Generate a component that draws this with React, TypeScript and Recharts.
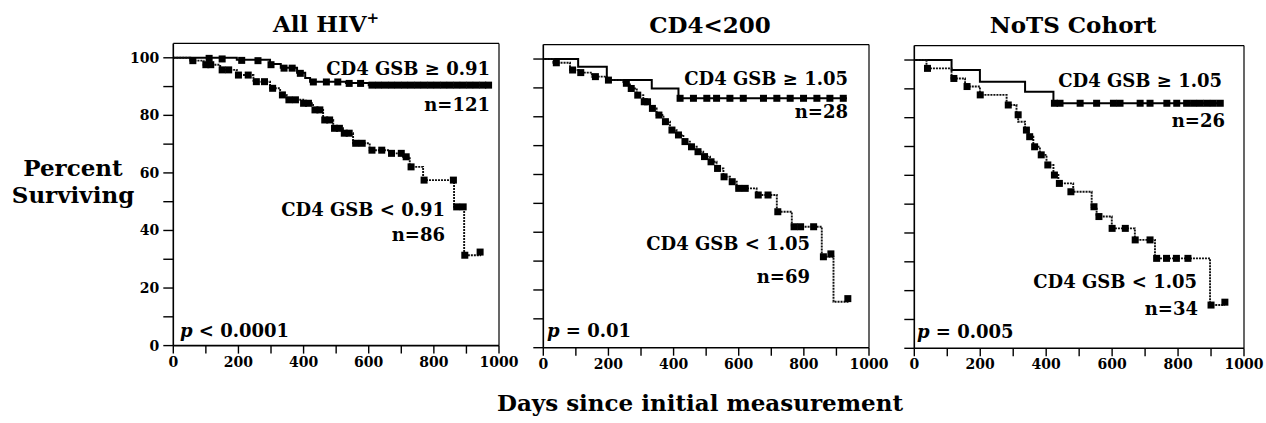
import React from "react";
import { ComposedChart, Line, Scatter, XAxis, YAxis, ReferenceLine } from "recharts";

type Pt = [number, number];

const xTicks = [0, 100, 200, 300, 400, 500, 600, 700, 800, 900, 1000];
const yTicks = [0, 10, 20, 30, 40, 50, 60, 70, 80, 90, 100];

// All HIV+ panel
const allHighSteps: Pt[] = [
  [0, 100], [195, 99.3], [297, 97.8], [330, 96.5], [380, 94.8], [405, 93],
  [420, 91.7], [530, 91.2], [600, 90.5], [970, 90.5],
];
const allHighMarks: Pt[] = [
  [110, 99.8], [150, 99.6], [210, 99.1], [260, 99], [300, 97.6], [340, 96.4],
  [365, 96.4], [390, 94.6], [430, 91.6], [470, 91.6], [505, 91.6], [540, 91.1],
  [575, 91.1], [610, 90.5], [630, 90.5], [650, 90.5], [670, 90.5], [690, 90.5],
  [710, 90.5], [730, 90.5], [750, 90.5], [770, 90.5], [790, 90.5], [810, 90.5],
  [830, 90.5], [850, 90.5], [870, 90.5], [890, 90.5], [910, 90.5], [930, 90.5],
  [950, 90.5], [968, 90.5],
];
const allLowSteps: Pt[] = [
  [0, 100], [52, 99], [93, 97.6], [144, 95.8], [195, 94], [246, 91.7], [297, 89.4],
  [328, 87.1], [348, 85.4], [399, 84.2], [429, 81.9], [460, 78.4], [491, 75.5],
  [521, 73.8], [552, 70.3], [603, 67.9], [664, 66.8], [705, 65.6], [726, 62.1],
  [767, 57.5], [862, 48.2], [893, 31.4], [945, 31.4],
];
const allLowMarks: Pt[] = [
  [60, 99], [100, 97.6], [115, 97.6], [150, 95.8], [170, 95.8], [200, 94], [230, 94],
  [255, 91.7], [280, 91.7], [305, 89.4], [335, 87.1], [355, 85.4], [375, 85.4],
  [400, 84.2], [415, 84.2], [435, 81.9], [450, 81.9], [465, 78.4], [480, 78.4],
  [495, 75.5], [510, 75.5], [525, 73.8], [540, 73.8], [560, 70.3], [580, 70.3],
  [610, 67.9], [640, 67.9], [670, 66.8], [700, 66.8], [715, 65.6], [730, 62.1],
  [770, 57.5], [860, 57.5], [870, 48.2], [890, 48.2], [895, 31.4], [942, 32.5],
];

// CD4<200 panel
const cd4HighSteps: Pt[] = [
  [0, 100], [107, 97.3], [195, 92.7], [333, 89.8], [415, 86.4], [932, 86.4],
];
const cd4HighMarks: Pt[] = [
  [420, 86.4], [461, 86.4], [502, 86.4], [532, 86.4], [573, 86.4], [614, 86.4],
  [676, 86.4], [717, 86.4], [758, 86.4], [799, 86.4], [840, 86.4], [880, 86.4],
  [921, 86.4],
];
const cd4LowSteps: Pt[] = [
  [0, 100], [31, 98.7], [82, 96.2], [112, 95.3], [149, 93.9], [195, 92.7],
  [246, 91.6], [266, 89.8], [287, 87.5], [307, 85.2], [328, 82.9], [348, 80.6],
  [369, 78.3], [389, 75.4], [409, 73.7], [430, 71.4], [450, 69.6], [471, 67.9],
  [491, 66.2], [512, 64.4], [532, 62.1], [553, 59.2], [573, 57.5], [594, 55.2],
  [655, 52.9], [717, 47.1], [763, 41.9], [855, 31.5], [891, 15.9], [937, 15.9],
];
const cd4LowMarks: Pt[] = [
  [40, 98.7], [90, 96.2], [115, 95.3], [160, 93.9], [200, 92.7], [255, 91.6],
  [270, 89.8], [290, 87.5], [310, 85.2], [320, 85.2], [335, 82.9], [355, 80.6],
  [375, 78.3], [395, 75.4], [415, 73.7], [435, 71.4], [455, 69.6], [475, 67.9],
  [495, 66.2], [515, 64.4], [535, 62.1], [555, 59.2], [580, 57.5], [600, 55.2],
  [620, 55.2], [660, 52.9], [690, 52.9], [720, 47.1], [770, 41.9], [790, 41.9],
  [830, 41.9], [860, 31.5], [883, 32.5], [935, 17],
];

// NoTS Cohort panel
const notsHighSteps: Pt[] = [
  [0, 100], [113, 96.5], [199, 92.5], [336, 89], [422, 85], [935, 85],
];
const notsHighMarks: Pt[] = [
  [425, 85], [442, 85], [503, 85], [553, 85], [604, 85], [624, 85], [685, 85],
  [715, 85], [766, 85], [796, 85], [826, 85], [847, 85], [867, 85], [887, 85],
  [907, 85], [928, 85],
];
const notsLowSteps: Pt[] = [
  [0, 100], [37, 97.1], [113, 93.6], [154, 90.8], [199, 87.9], [280, 84.4],
  [310, 81.5], [315, 78.6], [336, 75.7], [346, 73.4], [361, 69.9], [381, 67.1],
  [401, 63.6], [422, 60.1], [437, 57.2], [482, 54.3], [538, 49.1], [553, 45.7],
  [599, 41.6], [669, 37.6], [730, 31.2], [897, 15], [942, 15],
];
const notsLowMarks: Pt[] = [
  [40, 97.1], [120, 93.6], [160, 90.8], [200, 87.9], [285, 84.4], [315, 81],
  [340, 75.7], [350, 73.4], [365, 69.9], [385, 67.1], [405, 63.6], [425, 60.1],
  [440, 57.2], [475, 54.3], [545, 49.1], [560, 45.7], [600, 41.6], [640, 41.6],
  [670, 37.6], [715, 37.6], [735, 31.2], [765, 31.2], [795, 31.2], [830, 31.2],
  [900, 15], [942, 16],
];

const FONT = "'DejaVu Serif', serif";
const toRows = (pts: Pt[]) => pts.map(([day, pct]) => ({ day, pct }));

const square = (props: any) => (
  <rect x={props.cx - 3.5} y={props.cy - 3.5} width={7} height={7} fill="#000" />
);

interface PanelProps {
  left: number;
  width: number;
  margin: { top: number; right: number; bottom: number; left: number };
  highSteps: Pt[];
  highMarks: Pt[];
  lowSteps: Pt[];
  lowMarks: Pt[];
  yLabels: boolean;
}

function KMPanel({ left, width, margin, highSteps, highMarks, lowSteps, lowMarks, yLabels }: PanelProps) {
  const tickStyle = { fill: "#000", fontSize: 14, fontWeight: "bold", fontFamily: FONT };
  return (
    <div style={{ position: "absolute", left, top: 0 }}>
      <ComposedChart width={width} height={423} margin={margin}>
        <XAxis
          type="number"
          dataKey="day"
          domain={[0, 1000]}
          ticks={xTicks}
          interval={0}
          tickFormatter={(v) => (v % 200 === 0 ? String(v) : "")}
          tick={tickStyle}
          tickSize={8}
          tickMargin={3}
          height={30}
          axisLine={{ stroke: "#000", strokeWidth: 1.6 }}
          tickLine={{ stroke: "#000", strokeWidth: 1.4 }}
        />
        <YAxis
          type="number"
          dataKey="pct"
          domain={[0, 105]}
          ticks={yTicks}
          interval={0}
          tickFormatter={(v) => (yLabels && v % 20 === 0 ? String(v) : "")}
          tick={tickStyle}
          tickSize={10}
          tickMargin={4}
          width={20}
          axisLine={{ stroke: "#000", strokeWidth: 1.6 }}
          tickLine={{ stroke: "#000", strokeWidth: 1.4 }}
        />
        <ReferenceLine y={105} stroke="#000" strokeWidth={1.2} />
        <ReferenceLine x={1000} stroke="#000" strokeWidth={1.2} />
        <Line
          data={toRows(highSteps)}
          dataKey="pct"
          type="stepAfter"
          stroke="#000"
          strokeWidth={2}
          dot={false}
          isAnimationActive={false}
        />
        <Line
          data={toRows(lowSteps)}
          dataKey="pct"
          type="stepAfter"
          stroke="#111"
          strokeWidth={1.9}
          strokeDasharray="2 1"
          dot={false}
          isAnimationActive={false}
        />
        <Scatter data={toRows(highMarks)} dataKey="pct" shape={square} isAnimationActive={false} />
        <Scatter data={toRows(lowMarks)} dataKey="pct" shape={square} isAnimationActive={false} />
      </ComposedChart>
    </div>
  );
}

function Labels() {
  const t = { fontFamily: FONT, fontWeight: "bold" as const, fill: "#000" };
  return (
    <svg
      width={1266}
      height={423}
      style={{ position: "absolute", left: 0, top: 0, pointerEvents: "none" }}
    >
      <g {...t} fontSize={23} textAnchor="middle">
        <text x={326} y={32}>
          All HIV<tspan fontSize={15} dy={-9}>+</tspan>
        </text>
        <text x={710} y={33}>CD4&lt;200</text>
        <text x={1073} y={33}>NoTS Cohort</text>
        <text x={73} y={176}>Percent</text>
        <text x={73} y={203}>Surviving</text>
        <text x={700} y={411}>Days since initial measurement</text>
      </g>
      <g {...t} fontSize={18} textAnchor="end">
        <text x={490} y={75}>CD4 GSB ≥ 0.91</text>
        <text x={490} y={111}>n=121</text>
        <text x={445} y={216}>CD4 GSB &lt; 0.91</text>
        <text x={445} y={241}>n=86</text>
        <text x={848} y={85}>CD4 GSB ≥ 1.05</text>
        <text x={848} y={118}>n=28</text>
        <text x={810} y={250}>CD4 GSB &lt; 1.05</text>
        <text x={810} y={283}>n=69</text>
        <text x={1222} y={87}>CD4 GSB ≥ 1.05</text>
        <text x={1225} y={127}>n=26</text>
        <text x={1197} y={288}>CD4 GSB &lt; 1.05</text>
        <text x={1198} y={315}>n=34</text>
      </g>
      <g {...t} fontSize={18} textAnchor="start">
        <text x={180} y={337}>
          <tspan fontStyle="italic">p</tspan> &lt; 0.0001
        </text>
        <text x={547} y={337}>
          <tspan fontStyle="italic">p</tspan> = 0.01
        </text>
        <text x={917} y={338}>
          <tspan fontStyle="italic">p</tspan> = 0.005
        </text>
      </g>
    </svg>
  );
}

export default function App() {
  return (
    <div style={{ position: "absolute", left: 0, top: 0, width: 1266, height: 423, background: "#fff" }}>
      <KMPanel
        left={0}
        width={520}
        margin={{ top: 43.4, right: 21, bottom: 47.4, left: 153.3 }}
        highSteps={allHighSteps}
        highMarks={allHighMarks}
        lowSteps={allLowSteps}
        lowMarks={allLowMarks}
        yLabels
      />
      <KMPanel
        left={500}
        width={390}
        margin={{ top: 44.6, right: 21, bottom: 45.3, left: 23.3 }}
        highSteps={cd4HighSteps}
        highMarks={cd4HighMarks}
        lowSteps={cd4LowSteps}
        lowMarks={cd4LowMarks}
        yLabels={false}
      />
      <KMPanel
        left={870}
        width={396}
        margin={{ top: 45.6, right: 22, bottom: 44.7, left: 24.3 }}
        highSteps={notsHighSteps}
        highMarks={notsHighMarks}
        lowSteps={notsLowSteps}
        lowMarks={notsLowMarks}
        yLabels={false}
      />
      <Labels />
    </div>
  );
}
